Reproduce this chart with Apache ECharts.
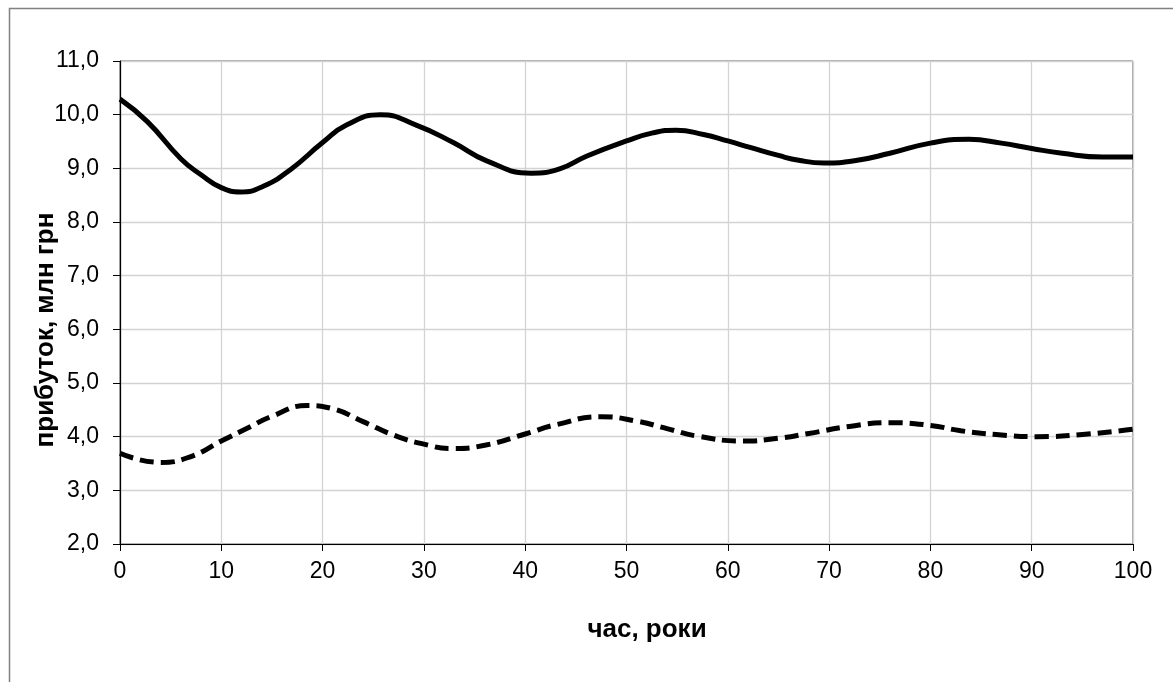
<!DOCTYPE html>
<html>
<head>
<meta charset="utf-8">
<script src="https://cdn.jsdelivr.net/npm/echarts@6/dist/echarts.min.js"></script>
<style>html,body{margin:0;padding:0;background:#fff;}#c{width:1173px;height:682px;}</style>
</head>
<body>
<div id="c"></div>
<script>
var solidYears  = [0,2.7,6,8,10,11.9,14.2,16.85,20,22.4,25.7,29.3,32.9,36.2,40.6,43.4,46.1,50,52.6,54.9,57.6,60,62.2,65,67,69.5,72.5,76,80,83.8,87,90,93,97,100];
var solidProfit = [10.29,9.87,9.18,8.88,8.64,8.56,8.67,8.98,9.48,9.81,10.00,9.80,9.48,9.14,8.91,8.99,9.23,9.51,9.66,9.71,9.63,9.51,9.39,9.24,9.15,9.10,9.14,9.28,9.47,9.54,9.47,9.37,9.28,9.21,9.21];
var dashedYears  = [0,4,7,10,12.5,15,18.5,21,24,27,30,32.8,36,40,43,47.5,51,54,57,61.5,65,68,72,76,80,83,86.5,90.5,95,100];
var dashedProfit = [3.69,3.52,3.63,3.92,4.15,4.38,4.58,4.52,4.28,4.03,3.86,3.78,3.84,4.05,4.22,4.37,4.29,4.15,4.01,3.92,3.97,4.06,4.19,4.26,4.21,4.11,4.04,4.00,4.04,4.14];
var xTitle = 'час, роки';
var yTitle = 'прибуток, млн грн';

var FONT = "'Liberation Sans', Arial, sans-serif";
function pairs(xs, ys){ return xs.map(function(x,i){ return [x, ys[i]]; }); }

var chart = echarts.init(document.getElementById('c'), null, {renderer:'canvas'});
chart.setOption({
  animation: false,
  backgroundColor: '#fff',
  grid: { left: 120, right: 40, top: 61, bottom: 138, show: true, borderColor: '#555', borderWidth: 1 },
  xAxis: {
    type: 'value', min: 0, max: 100, interval: 10,
    axisLine: { show: true, lineStyle: { color: '#000', width: 1.2 } },
    axisTick: { show: true, inside: false, length: 7, lineStyle: { color: '#000' } },
    axisLabel: { color: '#000', fontSize: 23, fontFamily: FONT, margin: 16 },
    splitLine: { show: true, lineStyle: { color: '#d3d3d3', width: 1.3 } }
  },
  yAxis: {
    type: 'value', min: 2, max: 11, interval: 1,
    axisLine: { show: true, lineStyle: { color: '#000', width: 1.2 } },
    axisTick: { show: true, inside: false, length: 7, lineStyle: { color: '#000' } },
    axisLabel: { color: '#000', fontSize: 23, fontFamily: FONT, margin: 21,
      formatter: function(v){ return v.toFixed(1).replace('.', ','); } },
    splitLine: { show: true, lineStyle: { color: '#d3d3d3', width: 1.3 } }
  },
  series: [
    { type: 'line', data: pairs(solidYears, solidProfit), smooth: 0.5, showSymbol: false,
      lineStyle: { color: '#000', width: 5 } },
    { type: 'line', data: pairs(dashedYears, dashedProfit), smooth: 0.5, showSymbol: false,
      lineStyle: { color: '#000', width: 5, type: [14, 7] } }
  ],
  graphic: [
    { type: 'rect', left: 7, top: 6, shape: { x: 0, y: 0, width: 1200, height: 700 }, silent: true,
      style: { fill: 'none', stroke: '#808080', lineWidth: 1.5 }, z: -1 },
    { type: 'text', x: 647, y: 630, style: { text: xTitle, font: "bold 26px " + FONT, fill: '#000', textAlign: 'center', textVerticalAlign: 'middle' } },
    { type: 'text', x: 46, y: 330, rotation: Math.PI/2, style: { text: yTitle, font: "bold 26px " + FONT, fill: '#000', textAlign: 'center', textVerticalAlign: 'middle' } }
  ]
});
</script>
</body>
</html>
